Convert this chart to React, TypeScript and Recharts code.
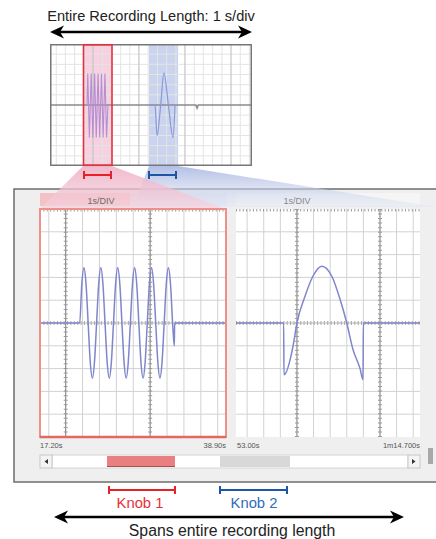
import React from "react";
import { LineChart, Line, XAxis, YAxis, ReferenceLine, ReferenceArea } from "recharts";

// ---------- DATA ----------
// Overview (entire recording), x in 0..100 (tenths of a second), y in divisions
const overviewBaseline = [
  { x: 0, y: 0 }, { x: 72.2, y: 0 }, { x: 72.8, y: -0.3 }, { x: 73.4, y: 0 }, { x: 100, y: 0 },
];
const overviewBurst = [
  { x: 18.3, y: 0 }, { x: 18.7, y: 3.1 }, { x: 19.5, y: -3.2 }, { x: 20.4, y: 3.1 }, { x: 21.2, y: -3.2 },
  { x: 22.1, y: 3.1 }, { x: 22.9, y: -3.2 }, { x: 23.8, y: 3.1 }, { x: 24.6, y: -3.2 }, { x: 25.5, y: 3.1 },
  { x: 26.3, y: -3.2 }, { x: 27.2, y: 3.1 }, { x: 28.0, y: -3.2 }, { x: 28.7, y: 0 },
];
const overviewWave = [
  { x: 49.5, y: 0 }, { x: 52.0, y: 0 }, { x: 53.0, y: -3.0 }, { x: 54.8, y: 0 }, { x: 56.4, y: 3.15 },
  { x: 58.6, y: 0 }, { x: 60.9, y: -3.2 }, { x: 61.9, y: 0 },
];
const knob1Window = [16.3, 30.7];
const knob2Window = [49.0, 63.4];
const overviewMajorX = [21.3, 44.0, 66.8, 89.6];
const overviewMinorX = [3.1, 7.6, 12.2, 16.7, 25.9, 30.4, 35.0, 39.5, 48.6, 53.2, 57.7, 62.3, 71.4, 75.9, 80.5, 85.1, 94.2, 98.7];
const overviewGridY = [-5, -4, -3, -2, -1, 1, 2, 3, 4, 5];

// Zoomed views (knob 1 / knob 2), x in divisions, y in divisions
const knob1Trace = [
  { x: -1.52, y: 0 }, { x: 0.83, y: 0 }, { x: 0.955, y: 1.71 }, { x: 1.08, y: 2.42 }, { x: 1.205, y: 1.71 },
  { x: 1.33, y: 0 }, { x: 1.455, y: -1.71 }, { x: 1.58, y: -2.42 }, { x: 1.705, y: -1.71 },
  { x: 1.83, y: 0 }, { x: 1.955, y: 1.71 }, { x: 2.08, y: 2.42 }, { x: 2.205, y: 1.71 },
  { x: 2.33, y: 0 }, { x: 2.455, y: -1.71 }, { x: 2.58, y: -2.42 }, { x: 2.705, y: -1.71 },
  { x: 2.83, y: 0 }, { x: 2.955, y: 1.71 }, { x: 3.08, y: 2.42 }, { x: 3.205, y: 1.71 },
  { x: 3.33, y: 0 }, { x: 3.455, y: -1.71 }, { x: 3.58, y: -2.42 }, { x: 3.705, y: -1.71 },
  { x: 3.83, y: 0 }, { x: 3.955, y: 1.71 }, { x: 4.08, y: 2.42 }, { x: 4.205, y: 1.71 },
  { x: 4.33, y: 0 }, { x: 4.455, y: -1.71 }, { x: 4.58, y: -2.42 }, { x: 4.705, y: -1.71 },
  { x: 4.83, y: 0 }, { x: 4.955, y: 1.71 }, { x: 5.08, y: 2.42 }, { x: 5.205, y: 1.71 },
  { x: 5.33, y: 0 }, { x: 5.455, y: -1.71 }, { x: 5.58, y: -2.42 }, { x: 5.705, y: -1.71 },
  { x: 5.83, y: 0 }, { x: 5.955, y: 1.71 }, { x: 6.08, y: 2.42 }, { x: 6.205, y: 1.71 },
  { x: 6.33, y: 0 }, { x: 6.43, y: -1.0 }, { x: 6.45, y: 0 }, { x: 9.49, y: 0 },
];
const knob2Trace = [
  { x: -3.67, y: 0 }, { x: -0.8, y: 0 }, { x: -0.78, y: -2.27 }, { x: -0.24, y: -1.03 }, { x: 0, y: 0 },
  { x: 0.48, y: 1.16 }, { x: 0.96, y: 2.05 }, { x: 1.5, y: 2.49 }, { x: 2.1, y: 2.05 }, { x: 2.6, y: 1.03 },
  { x: 3.0, y: 0 }, { x: 3.37, y: -1.15 }, { x: 3.8, y: -2.0 }, { x: 3.98, y: -2.49 }, { x: 4.0, y: 0 },
  { x: 7.41, y: 0 },
];
const knob1Domain = [-1.52, 9.49];
const knob2Domain = [-3.67, 7.41];
const knob1GridX = [-1, 1, 2, 3, 4, 6, 7, 8, 9];
const knob2GridX = [-3, -2, -1, 1, 2, 3, 4, 6, 7];
const zoomMajorX = [0, 5];
const zoomGridY = [-4, -3, -2, -1, 1, 2, 3, 4];

const headerLabel = "1s/DIV";
const knob1Start = "17.20s";
const knob1End = "38.90s";
const knob2Start = "53.00s";
const knob2End = "1m14.700s";

const FONT = "'Liberation Sans', Arial, sans-serif";
const TRACE = "#7f86cc";

function ZoomPlot({ data, domain, gridX, left, top, width }: any) {
  return (
    <div style={{ position: "absolute", left, top, width, height: 228 }}>
      <LineChart width={width} height={228} margin={{ top: 0, right: 0, bottom: 0, left: 0 }}>
        <XAxis type="number" dataKey="x" domain={domain} hide allowDataOverflow />
        <YAxis type="number" dataKey="y" domain={[-5, 5]} hide allowDataOverflow />
        {gridX.map((v: number) => (
          <ReferenceLine key={"gx" + v} x={v} stroke="#d2d2d2" strokeWidth={1} />
        ))}
        {zoomGridY.map((v: number) => (
          <ReferenceLine key={"gy" + v} y={v} stroke="#d2d2d2" strokeWidth={1} />
        ))}
        {zoomMajorX.map((v: number) => (
          <ReferenceLine key={"mx" + v} x={v} stroke="#8c8c8c" strokeWidth={1.2} />
        ))}
        {zoomMajorX.map((v: number) => (
          <ReferenceLine key={"tx" + v} x={v} stroke="#9a9a9a" strokeWidth={4} strokeDasharray="1 3.54" />
        ))}
        <ReferenceLine y={0} stroke="#b8b8b8" strokeWidth={1} />
        <ReferenceLine y={0} stroke="#aaaaaa" strokeWidth={4} strokeDasharray="1 2.38" />
        <ReferenceLine y={5} stroke="#9a9a9a" strokeWidth={5} strokeDasharray="1 2.38" />
        <Line data={data} dataKey="y" type="monotone" stroke={TRACE} strokeWidth={1.5} dot={false} isAnimationActive={false} />
      </LineChart>
    </div>
  );
}

export default function App() {
  return (
    <div style={{ position: "absolute", left: 0, top: 0, width: 436, height: 539, background: "#fff", overflow: "hidden", fontFamily: FONT }}>
      <svg width={436} height={539} style={{ position: "absolute", left: 0, top: 0 }}>
        <defs>
          <linearGradient id="pinkG" x1="0" y1="0" x2="0" y2="1">
            <stop offset="0" stopColor="#eeaec4" stopOpacity={0.85} />
            <stop offset="1" stopColor="#f5d3dd" stopOpacity={0.7} />
          </linearGradient>
          <linearGradient id="blueG" x1="0" y1="0" x2="0" y2="1">
            <stop offset="0" stopColor="#a9b8e2" stopOpacity={0.9} />
            <stop offset="1" stopColor="#dfe4f4" stopOpacity={0.4} />
          </linearGradient>
        </defs>
        {/* top label + arrow */}
        <text x={151} y={20.5} textAnchor="middle" fontSize={14.6} fill="#222">Entire Recording Length: 1 s/div</text>
        <line x1={58} y1={32} x2={244} y2={32} stroke="#000" strokeWidth={2.5} />
        <path d="M50,32 L64,25.5 L60,32 L64,38.5 Z" fill="#000" />
        <path d="M252,32 L238,25.5 L242,32 L238,38.5 Z" fill="#000" />

        {/* overview background */}
        <rect x={50} y={44} width={202} height={122} fill="#fff" />

        {/* big panel */}
        <rect x={14} y={189} width={430} height={293} fill="#efefef" stroke="#6e6e6e" strokeWidth={1.5} />
        <rect x={40} y={193} width={90} height={13} fill="#f4c2c6" />
        <rect x={130} y={193} width={97} height={13} fill="#e6e6f2" />
        <rect x={236} y={193} width={184} height={13} fill="#f5f5f5" />

        {/* connecting trapezoids */}
        <polygon points="149,166 178,166 436,207 133,207" fill="url(#blueG)" />
        <polygon points="83,166 112,166 226,209 40,209" fill="url(#pinkG)" />

        <text x={101} y={203.5} textAnchor="middle" fontSize={9} fill="#6a6a6a">{headerLabel}</text>
        <text x={297} y={203.5} textAnchor="middle" fontSize={9} fill="#888">{headerLabel}</text>

        {/* plot backgrounds */}
        <rect x={40} y={209} width={186} height={228} fill="#fff" />
        <rect x={236} y={209} width={184} height={228} fill="#fff" />

        {/* brackets under overview */}
        <g stroke="#e8202a" strokeWidth={2}>
          <line x1={84} y1={175} x2={111} y2={175} />
          <line x1={84} y1={171} x2={84} y2={179} />
          <line x1={111} y1={171} x2={111} y2={179} />
        </g>
        <g stroke="#1d56a4" strokeWidth={2}>
          <line x1={149} y1={175} x2={176} y2={175} />
          <line x1={149} y1={171} x2={149} y2={179} />
          <line x1={176} y1={171} x2={176} y2={179} />
        </g>

        {/* time labels */}
        <text x={40} y={448} fontSize={7.5} fill="#555">{knob1Start}</text>
        <text x={226} y={448} fontSize={7.5} fill="#555" textAnchor="end">{knob1End}</text>
        <text x={237} y={448} fontSize={7.5} fill="#555">{knob2Start}</text>
        <text x={420} y={448} fontSize={7.5} fill="#555" textAnchor="end">{knob2End}</text>

        {/* scrollbar */}
        <rect x={52} y={455} width={356} height={13} fill="#fff" stroke="#d4d4d4" strokeWidth={1} />
        <rect x={40} y={455} width={12} height={13} fill="#f4f4f4" stroke="#c8c8c8" strokeWidth={1} />
        <path d="M44.5,461.5 L48,459 L48,464 Z" fill="#333" />
        <rect x={408} y={455} width={12} height={13} fill="#f4f4f4" stroke="#c8c8c8" strokeWidth={1} />
        <path d="M415.5,461.5 L412,459 L412,464 Z" fill="#333" />
        <rect x={107} y={456} width={68} height={11} fill="#e97f80" />
        <line x1={107} y1={466.5} x2={175} y2={466.5} stroke="#a85050" strokeWidth={1} />
        <rect x={220} y={456} width={70} height={11} fill="#d8d8d8" />
        <rect x={428} y={448} width={5} height={16} fill="#a8a8a8" />

        {/* knob brackets */}
        <g stroke="#e8202a" strokeWidth={2}>
          <line x1={109} y1={490} x2={175} y2={490} />
          <line x1={109} y1={486} x2={109} y2={494} />
          <line x1={175} y1={486} x2={175} y2={494} />
        </g>
        <g stroke="#1d56a4" strokeWidth={2}>
          <line x1={220} y1={490} x2={287} y2={490} />
          <line x1={220} y1={486} x2={220} y2={494} />
          <line x1={287} y1={486} x2={287} y2={494} />
        </g>
        <text x={140} y={508} textAnchor="middle" fontSize={14.8} fill="#e8303a">Knob 1</text>
        <text x={254} y={508} textAnchor="middle" fontSize={14.8} fill="#2f6db8">Knob 2</text>

        {/* bottom arrow + label */}
        <line x1={62} y1={517} x2={396} y2={517} stroke="#000" strokeWidth={2.5} />
        <path d="M54,517 L68,510.5 L64,517 L68,523.5 Z" fill="#000" />
        <path d="M404,517 L390,510.5 L394,517 L390,523.5 Z" fill="#000" />
        <text x={232} y={536} textAnchor="middle" fontSize={15.8} fill="#222">Spans entire recording length</text>
      </svg>

      {/* overview chart */}
      <div style={{ position: "absolute", left: 50, top: 44, width: 202, height: 122 }}>
        <LineChart width={202} height={122} margin={{ top: 0, right: 0, bottom: 0, left: 0 }}>
          <XAxis type="number" dataKey="x" domain={[0, 100]} hide allowDataOverflow />
          <YAxis type="number" dataKey="y" domain={[-6, 6]} hide allowDataOverflow />
          {overviewMinorX.map((v) => (
            <ReferenceLine key={"ox" + v} x={v} stroke="#e4e4e4" strokeWidth={1} />
          ))}
          {overviewGridY.map((v) => (
            <ReferenceLine key={"oy" + v} y={v} stroke="#e4e4e4" strokeWidth={1} />
          ))}
          {overviewMajorX.map((v) => (
            <ReferenceLine key={"om" + v} x={v} stroke="#c4c4c4" strokeWidth={1.2} />
          ))}
          <ReferenceArea x1={knob2Window[0]} x2={knob2Window[1]} y1={-6} y2={6} fill="#a6b8e2" fillOpacity={0.6} stroke="none" ifOverflow="visible" />
          <ReferenceArea x1={knob1Window[0]} x2={knob1Window[1]} y1={-6} y2={6} fill="#eda6c4" fillOpacity={0.5} stroke="none" ifOverflow="visible" />
          <Line data={overviewBaseline} dataKey="y" type="linear" stroke="#8a8a8a" strokeWidth={1.6} dot={false} isAnimationActive={false} />
          <Line data={overviewBurst} dataKey="y" type="linear" stroke="#b68ed2" strokeWidth={1.1} dot={false} isAnimationActive={false} />
          <Line data={overviewWave} dataKey="y" type="monotone" stroke="#8799da" strokeWidth={1.2} dot={false} isAnimationActive={false} />
        </LineChart>
      </div>

      <ZoomPlot data={knob1Trace} domain={knob1Domain} gridX={knob1GridX} left={40} top={209} width={186} />
      <ZoomPlot data={knob2Trace} domain={knob2Domain} gridX={knob2GridX} left={236} top={209} width={184} />

      {/* frames on top */}
      <svg width={436} height={539} style={{ position: "absolute", left: 0, top: 0, pointerEvents: "none" }}>
        <rect x={50.75} y={44.75} width={200.5} height={120.5} fill="none" stroke="#777" strokeWidth={1.5} />
        <rect x={83.5} y={44.75} width={28.5} height={120.5} fill="none" stroke="#e4303e" strokeWidth={1.6} />
        <rect x={40} y={209} width={186} height={228} fill="none" stroke="#ee9088" strokeWidth={2} />
        <line x1={40} y1={437} x2={226} y2={437} stroke="#e06a60" strokeWidth={2.5} />
      </svg>
    </div>
  );
}
